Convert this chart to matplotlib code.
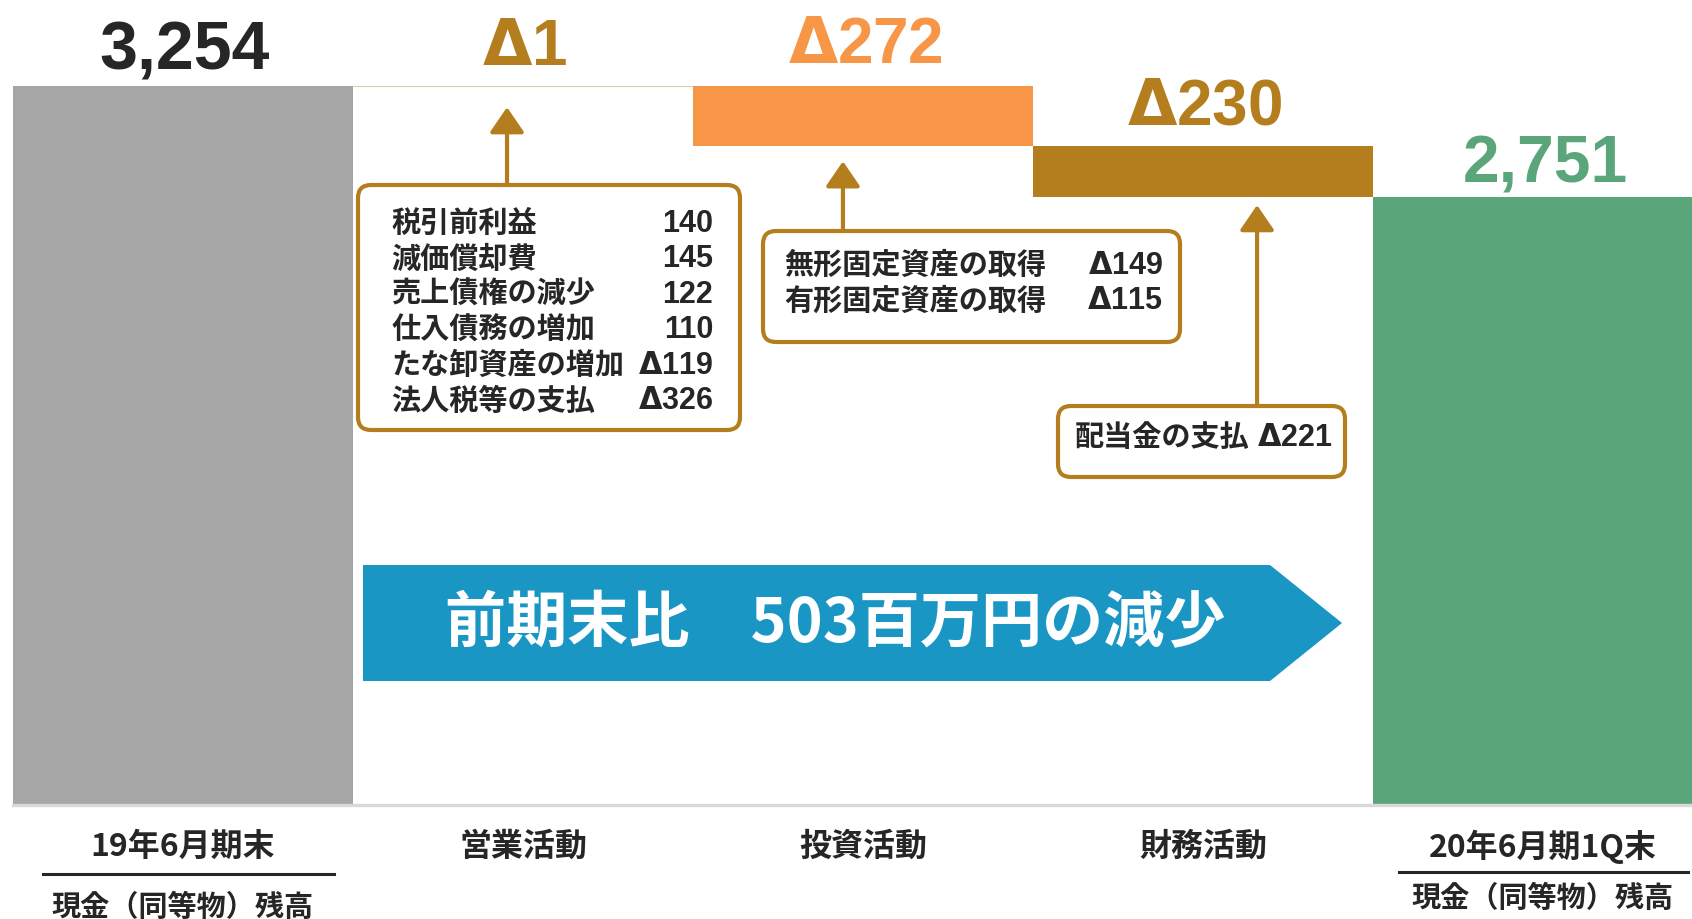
import matplotlib
matplotlib.use("Agg")
import matplotlib.pyplot as plt
import matplotlib.transforms as mtransforms
from matplotlib.patches import FancyBboxPatch, Polygon
from matplotlib.lines import Line2D

plt.rcParams['font.family'] = ['Noto Sans CJK JP', 'DejaVu Sans']
plt.rcParams['mathtext.fontset'] = 'dejavusans'

# Data
categories = ['19年6月期末', '営業活動', '投資活動', '財務活動', '20年6月期1Q末']
start_balance = 3254
changes = [-1, -272, -230]
end_balance = 2751
value_labels = ['3,254', 'Δ1', 'Δ272', 'Δ230', '2,751']

operating_items = ['税引前利益', '減価償却費', '売上債権の減少', '仕入債務の増加', 'たな卸資産の増加', '法人税等の支払']
operating_values = ['140', '145', '122', '110', 'Δ119', 'Δ326']
investing_items = ['無形固定資産の取得', '有形固定資産の取得']
investing_values = ['Δ149', 'Δ115']
financing_items = ['配当金の支払']
financing_values = ['Δ221']
balance_sub = '現金（同等物）残高'
summary_text = '前期末比　503百万円の減少'

# Colours
GRAY = '#A6A6A6'
BROWN = '#B47E1F'
ORANGE = '#F79646'
GREEN = '#5BA57B'
BLUE = '#1A96C4'
DARK = '#262626'
bar_colors = [GRAY, BROWN, ORANGE, BROWN, GREEN]
label_colors = [DARK, BROWN, ORANGE, BROWN, GREEN]
label_sizes = [49, 46, 46, 46, 47.5]
label_gaps = [17, 22, 24, 23, 16]   # px between bar top and text baseline


def delta(s):
    # bold, wide triangle for the minus sign
    return s.replace('Δ', r'$\mathbf{\Delta}$')


# waterfall bottoms / heights
bottoms = [0]
heights = [start_balance]
running = start_balance
for c in changes:
    running += c
    bottoms.append(running)
    heights.append(-c)
bottoms.append(0)
heights.append(end_balance)

W, H = 1692, 920
fig = plt.figure(figsize=(W / 100, H / 100), dpi=100)
ax = fig.add_axes([13 / W, 114 / H, (W - 13) / W, 806 / H])
ytop = start_balance * 806 / 719
ax.set_xlim(-0.5, -0.5 + (W - 13) / 340)
ax.set_ylim(0, ytop)
ax.axis('off')
units_per_px = ytop / 806

x = list(range(len(categories)))
bars = ax.bar(x, heights, bottom=bottoms, width=1.0, color=bar_colors, linewidth=0)
bars[1].set_edgecolor('#DCCFAE')
bars[1].set_linewidth(0.8)

ax.axhline(0, color='#D9D9D9', lw=2.4, clip_on=False, zorder=3)

# value labels above each bar
num_font = ['Liberation Sans', 'DejaVu Sans']
for i, lbl in enumerate(value_labels):
    ax.annotate(delta(lbl), xy=(i, bottoms[i] + heights[i]), xytext=(2, label_gaps[i]),
                textcoords='offset pixels', ha='center', va='baseline',
                fontsize=label_sizes[i], fontweight='bold', color=label_colors[i],
                family=num_font)

# category labels
for i, cat in enumerate(categories):
    ax.annotate(cat, xy=(i, 0), xytext=(0, -41), textcoords='offset pixels',
                ha='center', va='center', fontsize=23, fontweight='bold', color=DARK)
ax.annotate(balance_sub, xy=(0, 0), xytext=(0, -101), textcoords='offset pixels',
            ha='center', va='center', fontsize=21, fontweight='bold', color=DARK,
            annotation_clip=False)
ax.annotate(balance_sub, xy=(4, 0), xytext=(0, -92), textcoords='offset pixels',
            ha='center', va='center', fontsize=21, fontweight='bold', color=DARK,
            annotation_clip=False)

T = mtransforms.IdentityTransform()


def fy(y):
    return H - y


fig.add_artist(Line2D([43, 334], [fy(875), fy(875)], color=DARK, lw=2.2, transform=T))
fig.add_artist(Line2D([1399, 1688], [fy(873), fy(873)], color=DARK, lw=2.2, transform=T))


def callout(x0, y0, x1, y1):
    box = FancyBboxPatch((x0, fy(y1)), x1 - x0, y1 - y0,
                         boxstyle='round,pad=0,rounding_size=13',
                         fc='white', ec=BROWN, lw=3, transform=T, zorder=4)
    fig.add_artist(box)


def box_rows(items, values, xl, xr, y0, step, size=21):
    for k, (it, val) in enumerate(zip(items, values)):
        y = fy(y0 + k * step)
        fig.text(xl, y, it, transform=T, ha='left', va='center', fontsize=size,
                 fontweight='bold', color=DARK, zorder=5)
        fig.text(xr, y - 9, delta(val), transform=T, ha='right', va='baseline',
                 fontsize=22, fontweight='bold', color=DARK, zorder=5, family=num_font)


def pointer(i, dx, gap_px, box_top):
    tip = bottoms[i] - gap_px * units_per_px
    ax.annotate('', xy=(i + dx, tip), xycoords='data',
                xytext=(i + dx, fy(box_top)), textcoords=('data', 'figure pixels'),
                arrowprops=dict(arrowstyle='-|>,head_length=0.7,head_width=0.48',
                                color=BROWN, lw=3, mutation_scale=22,
                                shrinkA=0, shrinkB=0))


# operating box
callout(358, 186, 740, 431)
box_rows(operating_items, operating_values, 391, 713, 223, 35.5)
pointer(1, -0.047, 21, 186)

# investing box
callout(763, 232, 1180, 343)
box_rows(investing_items, investing_values, 784, 1163, 265, 35.5)
pointer(2, -0.059, 15, 232)

# financing box
callout(1058, 407, 1345, 478)
box_rows(financing_items, financing_values, 1075, 1333, 437, 35.5)
pointer(3, 0.159, 8, 407)

# summary arrow
fig.add_artist(Polygon([(363, fy(566)), (1270, fy(566)), (1342, fy(624)),
                        (1270, fy(682)), (363, fy(682))],
                       closed=True, fc=BLUE, ec='none', transform=T, zorder=4))
fig.text(835, fy(625), summary_text, transform=T, ha='center', va='center',
         fontsize=44, fontweight='bold', color='white', zorder=5)

fig.savefig('out.png', dpi=100)
